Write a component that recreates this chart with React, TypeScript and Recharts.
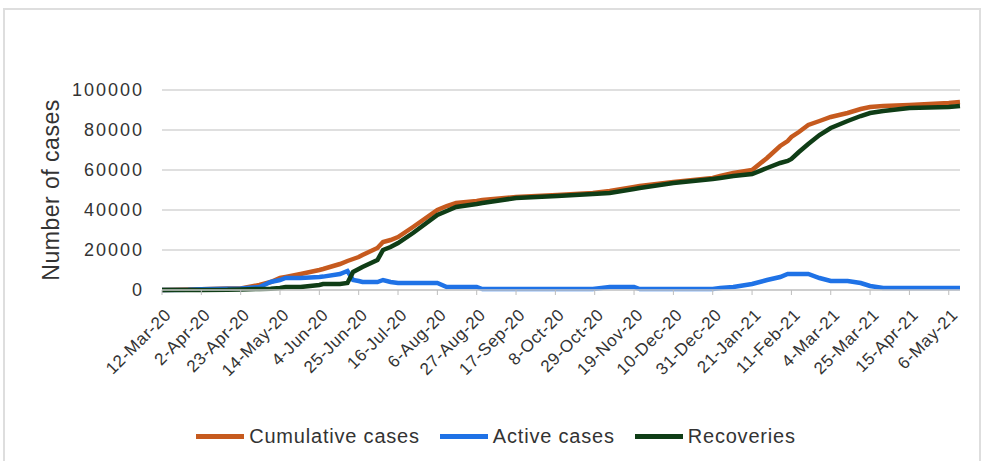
import React from "react";
import { LineChart, Line, XAxis, YAxis, CartesianGrid, Legend } from "recharts";

// Days elapsed since 12-Mar-20 for each sample
const dayIndex = [
  0, 14, 21, 35, 42, 52, 58, 63, 66, 74, 84, 86, 95, 99, 102, 105, 107, 115, 118, 122,
  126, 134, 147, 152, 157, 168, 171, 189, 211, 230, 239, 252, 255, 273, 294, 298, 305,
  315, 323, 330, 334, 336, 340, 345, 351, 357, 366, 373, 378, 385, 399, 420, 426,
];

const cumulativeCases = [
  0, 200, 400, 700, 800, 2500, 4000, 6000, 6500, 8000, 10000, 10500, 13000, 14500, 15500,
  16500, 17500, 21000, 24000, 25000, 26500, 31500, 40000, 42000, 43500, 44500, 45000,
  46500, 47500, 48500, 49500, 51500, 52000, 54000, 56000, 57000, 58500, 60000, 66000,
  72000, 74500, 76500, 79000, 82500, 84500, 86500, 88500, 90500, 91500, 92000, 92500,
  93500, 94000,
];

const activeCases = [
  0, 100, 350, 600, 800, 1500, 4000, 5000, 6000, 6000, 6500, 6700, 8000, 9500, 5000,
  4500, 4000, 4000, 5000, 4000, 3500, 3500, 3500, 1500, 1500, 1500, 500, 500, 500, 500,
  1500, 1500, 500, 500, 500, 1000, 1500, 3000, 5000, 6500, 8000, 8000, 8000, 8000, 6000,
  4500, 4500, 3500, 2000, 1000, 1000, 1000, 1000,
];

const recoveries = [
  0, 0, 50, 100, 300, 500, 600, 1000, 1500, 1500, 2500, 3000, 3000, 3500, 9000, 10500,
  11500, 15000, 20000, 21500, 23500, 28500, 37500, 39500, 41500, 43000, 43500, 46000,
  47000, 48000, 48500, 50500, 51000, 53500, 55500, 56000, 57000, 58000, 61000, 63500,
  64500, 65500, 69000, 73000, 77500, 81000, 84500, 87000, 88500, 89500, 91000, 91500,
  92000,
];

const tickDays = [0, 21, 42, 63, 84, 105, 126, 147, 168, 189, 210, 231, 252, 273, 294, 315, 336, 357, 378, 399, 420];
const tickLabels = [
  "12-Mar-20", "2-Apr-20", "23-Apr-20", "14-May-20", "4-Jun-20", "25-Jun-20", "16-Jul-20",
  "6-Aug-20", "27-Aug-20", "17-Sep-20", "8-Oct-20", "29-Oct-20", "19-Nov-20", "10-Dec-20",
  "31-Dec-20", "21-Jan-21", "11-Feb-21", "4-Mar-21", "25-Mar-21", "15-Apr-21", "6-May-21",
];
const yTicks = [0, 20000, 40000, 60000, 80000, 100000];

const seriesNames = ["Cumulative cases", "Active cases", "Recoveries"];
const seriesColors = ["#c65a1e", "#1f72e6", "#0f3d16"];

const chartData = dayIndex.map((d, i) => ({
  day: d,
  cumulative: cumulativeCases[i],
  active: activeCases[i],
  recoveries: recoveries[i],
}));

const FONT = "'Liberation Sans', Arial, sans-serif";
const TEXT = "#333333";

const DateTick = (props: any) => {
  const { x, y, payload } = props;
  const idx = tickDays.indexOf(payload.value);
  const label = idx >= 0 ? tickLabels[idx] : "";
  return (
    <g transform={`translate(${x},${y})`}>
      <text
        x={10}
        y={19}
        transform="rotate(-45 10 19)"
        textAnchor="end"
        fontSize={17}
        letterSpacing={0.6}
        fontFamily={FONT}
        fill={TEXT}
      >
        {label}
      </text>
    </g>
  );
};

const LegendRow = () => (
  <div
    style={{
      height: 36,
      display: "flex",
      alignItems: "center",
      justifyContent: "center",
      fontFamily: FONT,
      fontSize: 20,
      letterSpacing: 0.8,
      color: TEXT,
      paddingRight: 30,
    }}
  >
    {seriesNames.map((name, i) => (
      <div key={name} style={{ display: "flex", alignItems: "center", marginRight: i < 2 ? 20 : 0 }}>
        <div style={{ width: 48, height: 5, background: seriesColors[i], marginRight: 5 }} />
        <span>{name}</span>
      </div>
    ))}
  </div>
);

export default function App() {
  return (
    <div
      style={{
        position: "absolute",
        left: 0,
        top: 0,
        width: 983,
        height: 461,
        background: "#ffffff",
        overflow: "hidden",
      }}
    >
      <div
        style={{
          position: "absolute",
          left: 3,
          top: 8,
          width: 978,
          height: 470,
          border: "2px solid #dedede",
          boxSizing: "border-box",
        }}
      />
      <div style={{ position: "absolute", left: 0, top: 0 }}>
        <LineChart
          width={983}
          height={461}
          data={chartData}
          margin={{ top: 90, right: 23, left: 62, bottom: 7 }}
        >
          <CartesianGrid vertical={false} stroke="#d4d4d4" strokeWidth={1.5} />
          <XAxis
            dataKey="day"
            type="number"
            domain={[0, 426]}
            ticks={tickDays}
            interval={0}
            tick={<DateTick />}
            height={128}
            axisLine={{ stroke: "#c8c8c8", strokeWidth: 1.5 }}
            tickLine={{ stroke: "#bdbdbd" }}
            tickSize={5}
          />
          <YAxis
            domain={[0, 100000]}
            ticks={yTicks}
            width={100}
            axisLine={false}
            tickLine={false}
            tickMargin={12}
            tick={{ fontSize: 18, fill: TEXT, fontFamily: FONT, letterSpacing: 2 }}
            label={{
              value: "Number of cases",
              angle: -90,
              position: "insideLeft",
              dx: -16,
              dy: 0,
              style: { fontSize: 23, fill: TEXT, fontFamily: FONT, letterSpacing: 0.5, textAnchor: "middle" },
            }}
          />
          <Legend verticalAlign="bottom" content={<LegendRow />} />
          <Line
            type="linear"
            dataKey="cumulative"
            name={seriesNames[0]}
            stroke={seriesColors[0]}
            strokeWidth={4.5}
            dot={false}
            isAnimationActive={false}
          />
          <Line
            type="linear"
            dataKey="active"
            name={seriesNames[1]}
            stroke={seriesColors[1]}
            strokeWidth={4.5}
            dot={false}
            isAnimationActive={false}
          />
          <Line
            type="linear"
            dataKey="recoveries"
            name={seriesNames[2]}
            stroke={seriesColors[2]}
            strokeWidth={4.5}
            dot={false}
            isAnimationActive={false}
          />
        </LineChart>
      </div>
    </div>
  );
}
